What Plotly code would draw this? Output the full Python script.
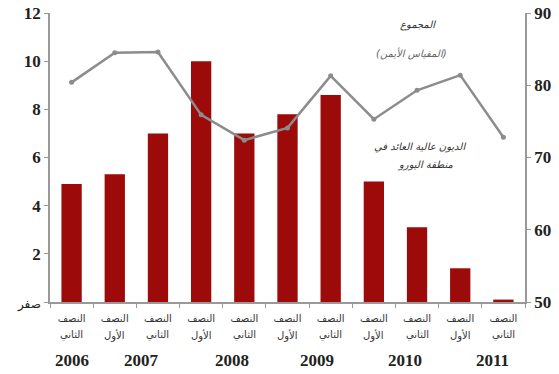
import plotly.graph_objects as go

periods = ["2006 H2", "2007 H1", "2007 H2", "2008 H1", "2008 H2", "2009 H1",
           "2009 H2", "2010 H1", "2010 H2", "2011 H1", "2011 H2"]
tick_line1 = ["النصف"] * 11
tick_line2 = ["الثاني", "الأول", "الثاني", "الأول", "الثاني", "الأول",
              "الثاني", "الأول", "الثاني", "الأول", "الثاني"]
high_yield = [4.9, 5.3, 7.0, 10.0, 7.0, 7.8, 8.6, 5.0, 3.1, 1.4, 0.1]
total = [80.4, 84.5, 84.6, 75.9, 72.4, 74.1, 81.3, 75.3, 79.3, 81.4, 72.8]
years = ["2006", "2007", "2008", "2009", "2010", "2011"]
year_pos = [0.0, 1.63, 3.71, 5.68, 7.72, 9.75]
left_ticks = [0, 2, 4, 6, 8, 10, 12]
left_ticktext = ['<span style="font-size:12px;font-weight:normal;font-family:DejaVu Sans">صفر</span>',
                 "2", "4", "6", "8", "10", "12"]
right_ticks = [50, 60, 70, 80, 90]

x = list(range(len(periods)))
serif = "Liberation Serif"

fig = go.Figure()
fig.add_trace(go.Bar(x=x, y=high_yield, marker_color="#9c0a0a", width=0.47,
                     marker_line_width=0, yaxis="y"))
fig.add_trace(go.Scatter(x=x, y=total, mode="lines+markers", yaxis="y2",
                         line=dict(color="#8c8c8c", width=2.5),
                         marker=dict(color="#8c8c8c", size=5)))

for xi, t2 in zip(x, tick_line2):
    fig.add_annotation(x=xi, y=-33 / 289, xref="x", yref="paper", text=t2,
                       showarrow=False, yanchor="middle",
                       font=dict(family="DejaVu Sans", size=10, color="#333"))

for yr, p in zip(years, year_pos):
    fig.add_annotation(x=p, y=-58 / 289, xref="x", yref="paper", text="<b>%s</b>" % yr,
                       showarrow=False, font=dict(family=serif, size=17, color="#222"),
                       yanchor="middle")

ann_font = "DejaVu Sans"
notes = [("<i>المجموع</i>", 418, 25, "#333"),
         ("<i>(المقياس الأيمن)</i>", 411, 53, "#666"),
         ("<i>الديون عالية العائد في</i>", 420, 147, "#333"),
         ("<i>منطقة اليورو</i>", 425, 165, "#333")]
for txt, px, py, col in notes:
    fig.add_annotation(x=(px - 50) / 475, y=(302 - py) / 289, xref="paper", yref="paper",
                       text=txt, showarrow=False, xanchor="center", yanchor="middle",
                       font=dict(family=ann_font, size=10, color=col))

fig.update_layout(
    width=559, height=374, margin=dict(l=50, r=34, t=13, b=72),
    paper_bgcolor="white", plot_bgcolor="white", showlegend=False,
    xaxis=dict(range=[-0.5, 10.5], tickvals=x, ticktext=tick_line1, ticks="",
               showline=True, linecolor="#999", linewidth=1.5, showgrid=False,
               zeroline=False, automargin=False, ticklabelstandoff=6,
               tickfont=dict(family="DejaVu Sans", size=10, color="#333"),
               minor=dict(ticks="outside", tick0=0.5, dtick=1, ticklen=4,
                          tickcolor="#999", showgrid=False)),
    yaxis=dict(range=[0, 12], tickvals=left_ticks, ticktext=left_ticktext,
               showline=True, linecolor="#999", linewidth=1.5, showgrid=False,
               zeroline=False, ticks="outside", ticklen=4, tickcolor="#999",
               automargin=False,
               tickfont=dict(family=serif, size=17, color="#222", weight="bold")),
    yaxis2=dict(range=[50, 90], tickvals=right_ticks, overlaying="y", side="right",
                showline=True, linecolor="#999", linewidth=1.5, showgrid=False,
                zeroline=False, ticks="outside", ticklen=4, tickcolor="#999",
                automargin=False,
                tickfont=dict(family=serif, size=17, color="#222", weight="bold")),
)
fig.write_html("out.html")
